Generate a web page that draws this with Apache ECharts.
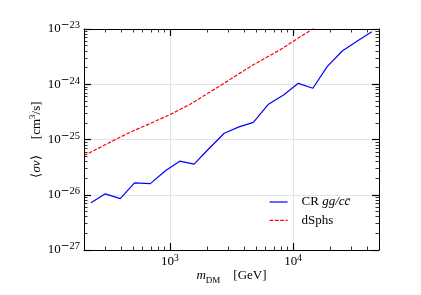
<!DOCTYPE html>
<html><head><meta charset="utf-8">
<script src="https://cdn.jsdelivr.net/npm/echarts@6/dist/echarts.min.js"></script>
<style>html,body{margin:0;padding:0;background:#fff}#c{width:421px;height:295px}</style>
</head><body><div id="c"></div>
<script>
// ---- data ----
const massCR  = [228, 298, 394, 515, 692, 923, 1200, 1570, 2070, 2760, 3640, 4760, 6320, 8380, 11040, 14510, 18950, 25140, 33330, 43690];
const sigmaCR = [7.15e-27, 1.04e-26, 8.5e-27, 1.64e-26, 1.59e-26, 2.74e-26, 4.06e-26, 3.58e-26, 6.8e-26, 1.30e-25, 1.69e-25, 2.04e-25, 4.36e-25, 6.40e-25, 1.04e-24, 8.47e-25, 2.08e-24, 4.00e-24, 6.07e-24, 8.94e-24];
const massDSph  = [200, 443, 1000, 1449, 2466, 4624, 7870, 14290, 16000];
const sigmaDSph = [5.12e-26, 1.26e-25, 2.82e-25, 4.31e-25, 8.93e-25, 2.17e-24, 4.22e-24, 9.9e-24, 1.2e-23];
const seriesNames = ['CR {i|gg/c}{i|c\u0304}', 'dSphs'];
const xMin = 200, xMax = 50000, yMin = 1e-27, yMax = 1e-23;
const xTickExps = [3, 4];
const yTickExps = [-27, -26, -25, -24, -23];
const xTitle = '{i|m}{sub|DM}    [GeV]';
const yTitle = '\u27e8{i|\u03c3v}\u27e9     [cm{sup|3}/s]';

// ---- minor tick positions (log10 space) ----
function minors(lo, hi) {
  const out = [];
  for (let n = Math.floor(Math.log10(lo)) - 1; n <= Math.ceil(Math.log10(hi)); n++) {
    for (let k = 2; k <= 9; k++) {
      const v = k * Math.pow(10, n);
      if (v >= lo && v <= hi) out.push(Math.log10(v));
    }
  }
  return out;
}
const xMinor = minors(xMin, xMax);
const yMinor = minors(yMin, yMax);

const FONT = 'Liberation Serif';
function richLab(supSize) {
  return {
    b: {fontSize: 13, fontFamily: FONT, color: '#000', lineHeight: 18},
    s: {fontSize: supSize, fontFamily: FONT, color: '#000', lineHeight: 9, verticalAlign: 'top'},
    m: {fontSize: supSize, fontFamily: 'DejaVu Serif', color: '#000', lineHeight: 9, verticalAlign: 'top'}
  };
}
const supFmt = v => v < 0 ? '{b|10}{m|\u2212}{s|' + (-v) + '}' : '{b|10}{s|' + v + '}';

function overlay(dim, pos, major, label, name) {
  const lo = dim === 'x' ? Math.log10(xMin) : Math.log10(yMin);
  const hi = dim === 'x' ? Math.log10(xMax) : Math.log10(yMax);
  const majorVals = dim === 'x' ? xTickExps : yTickExps;
  const ax = {
    type: 'value', position: pos, min: lo, max: hi, gridIndex: 0,
    axisLine: {show: major, onZero: false, lineStyle: {color: '#000', width: 1}},
    axisTick: {show: true, inside: true, length: major ? 7 : 3.5,
      customValues: major ? majorVals : (dim === 'x' ? xMinor : yMinor),
      lineStyle: {color: '#000', width: major ? 1.2 : 0.8}},
    axisLabel: {show: label, customValues: majorVals, formatter: supFmt, margin: dim === 'x' ? 3 : 4,
      rich: richLab(dim === 'x' ? 9.5 : 10.5)},
    splitLine: {show: false},
    z: 5
  };
  if (name) {
    ax.name = name;
    ax.nameLocation = 'middle';
    ax.nameMoveOverlap = false;
    ax.nameGap = dim === 'x' ? 17 : 38;
    ax.nameTextStyle = {fontSize: 13, fontFamily: FONT, color: '#000', lineHeight: 18,
      rich: {
        i: {fontSize: 13, fontFamily: FONT, fontStyle: 'italic', color: '#000', lineHeight: 18},
        sub: {fontSize: 9, fontFamily: FONT, color: '#000', lineHeight: 11, verticalAlign: 'bottom'},
        sup: {fontSize: 9, fontFamily: FONT, color: '#000', lineHeight: 10, verticalAlign: 'top'}
      }};
  }
  return ax;
}

const grid = {left: 84, top: 29, width: 295, height: 221, show: false};
const gridLine = {show: true, lineStyle: {color: '#e3e3e3', width: 1}};

const option = {
  animation: false,
  backgroundColor: '#fff',
  grid: grid,
  xAxis: [
    {type: 'log', logBase: 10, min: xMin, max: xMax, position: 'bottom',
     axisLine: {show: false}, axisTick: {show: false}, axisLabel: {show: false}, splitLine: gridLine},
    overlay('x', 'bottom', true, true, xTitle),
    overlay('x', 'bottom', false, false),
    overlay('x', 'top', true, false),
    overlay('x', 'top', false, false)
  ],
  yAxis: [
    {type: 'log', logBase: 10, min: yMin, max: yMax, position: 'left',
     axisLine: {show: false}, axisTick: {show: false}, axisLabel: {show: false}, splitLine: gridLine},
    overlay('y', 'left', true, true, yTitle),
    overlay('y', 'left', false, false),
    overlay('y', 'right', true, false),
    overlay('y', 'right', false, false)
  ],
  legend: {
    orient: 'vertical', left: 269, top: 195, padding: 0,
    itemWidth: 18, itemHeight: 14, itemGap: 4.3,
    itemStyle: {color: 'rgba(0,0,0,0)', borderWidth: 0, opacity: 0},
    lineStyle: {width: 1.2},
    textStyle: {fontSize: 13, fontFamily: FONT, color: '#000', lineHeight: 14, padding: [0, 0, 0, 9],
      rich: {i: {fontSize: 13, fontFamily: FONT, fontStyle: 'italic', color: '#000'}}},
    data: seriesNames
  },
  series: [
    {name: seriesNames[0], type: 'line', xAxisIndex: 0, yAxisIndex: 0, symbol: 'none',
     lineStyle: {color: '#0000ff', width: 1.2}, itemStyle: {color: '#0000ff'},
     data: massCR.map((m, i) => [m, sigmaCR[i]]), z: 3},
    {name: seriesNames[1], type: 'line', xAxisIndex: 0, yAxisIndex: 0, symbol: 'none',
     lineStyle: {color: '#ff0000', width: 1.2, type: [3.7, 1.6]}, itemStyle: {color: '#ff0000'},
     data: massDSph.map((m, i) => [m, sigmaDSph[i]]), z: 3}
  ]
};
const chart = echarts.init(document.getElementById('c'), null, {renderer: 'canvas'});
chart.setOption(option);
</script>
</body></html>
